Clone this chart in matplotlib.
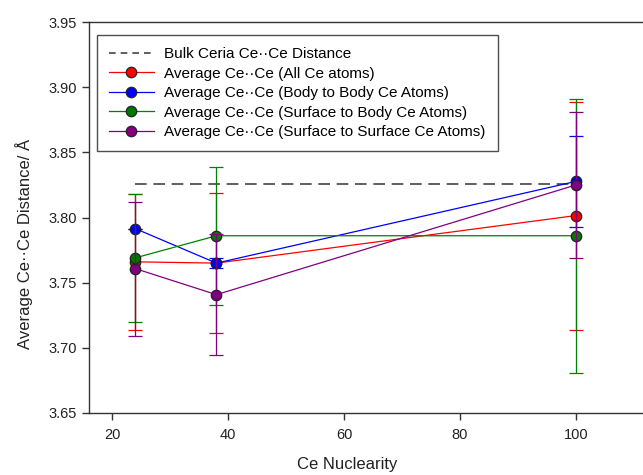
import matplotlib
matplotlib.use("Agg")
import matplotlib.pyplot as plt
from matplotlib.lines import Line2D

plt.rcParams['font.family'] = ['Liberation Sans', 'DejaVu Sans']

nuclearity = [24, 38, 100]
bulk_distance = 3.826

all_mean = [3.766, 3.765, 3.8015]
all_err = [0.052, 0.0535, 0.0875]
body_mean = [3.7915, 3.765, 3.8277]
body_err = [0.0, 0.004, 0.035]
surf_body_mean = [3.769, 3.786, 3.786]
surf_body_err = [0.049, 0.053, 0.105]
surf_surf_mean = [3.7608, 3.7408, 3.825]
surf_surf_err = [0.0514, 0.0462, 0.056]

labels = [
    "Bulk Ceria Ce\u00b7\u00b7Ce Distance",
    "Average Ce\u00b7\u00b7Ce (All Ce atoms)",
    "Average Ce\u00b7\u00b7Ce (Body to Body Ce Atoms)",
    "Average Ce\u00b7\u00b7Ce (Surface to Body Ce Atoms)",
    "Average Ce\u00b7\u00b7Ce (Surface to Surface Ce Atoms)",
]
xticks = [20, 40, 60, 80, 100]
yticks = [3.65, 3.70, 3.75, 3.80, 3.85, 3.90, 3.95]

fig = plt.figure(figsize=(6.43, 4.75), dpi=100)
ax = fig.add_axes([89/643, 1-413/475, 1-89/643, (413-22)/475])

ax.plot([nuclearity[0], nuclearity[-1]], [bulk_distance, bulk_distance],
        color='#444444', lw=1.2, dashes=(7, 4), zorder=1)

series = [
    (all_mean, all_err, 'red', 'red'),
    (body_mean, body_err, 'blue', 'blue'),
    (surf_body_mean, surf_body_err, 'green', '#007700'),
    (surf_surf_mean, surf_surf_err, 'purple', 'purple'),
]
handles = [Line2D([], [], color='#444444', lw=1.2, dashes=(4, 3))]
for i, (m, e, c, fc) in enumerate(series):
    ax.errorbar(nuclearity, m, yerr=e, color=c, lw=0.9, elinewidth=0.9,
                capsize=5, capthick=0.9, marker='o', ms=7.5,
                mfc=fc, mec='#222222', mew=0.9, zorder=2 + i)
    handles.append(Line2D([], [], color=c, lw=0.9, marker='o', ms=7.5,
                          mfc=fc, mec='#222222', mew=0.9))

ax.set_xlim(16.03, 111.55)
ax.set_ylim(3.65, 3.95)
ax.set_xticks(xticks)
ax.set_yticks(yticks)
ax.set_yticklabels([f"{v:.2f}" for v in yticks])
ax.spines['right'].set_visible(False)
for s in ['left', 'bottom', 'top']:
    ax.spines[s].set_color('#333333')
    ax.spines[s].set_linewidth(1.0)
ax.tick_params(axis='both', direction='out', length=5, width=1.0,
               color='#333333', labelsize=10.5, labelcolor='#222222')
ax.tick_params(axis='x', pad=6)
ax.tick_params(axis='y', pad=3.5)

ax.set_xlabel("Ce Nuclearity", fontsize=12, color='#222222')
ax.set_ylabel("Average Ce\u00b7\u00b7Ce Distance/ \u00c5", fontsize=12, color='#222222')
ax.xaxis.set_label_coords((347-89)/(643-89), -(457-413)/391)
ax.yaxis.set_label_coords(-(89-33)/(643-89), (413-244)/391)

leg = ax.legend(handles, labels, loc='upper left', fontsize=11,
                frameon=True, fancybox=False, edgecolor='#222222',
                bbox_to_anchor=((97-89)/(643-89), 1-(35-22)/391),
                borderaxespad=0, handlelength=2.9, labelspacing=0.36,
                borderpad=0.8, handletextpad=0.7)
leg.get_frame().set_linewidth(1.0)

fig.savefig("out.png", dpi=100)
